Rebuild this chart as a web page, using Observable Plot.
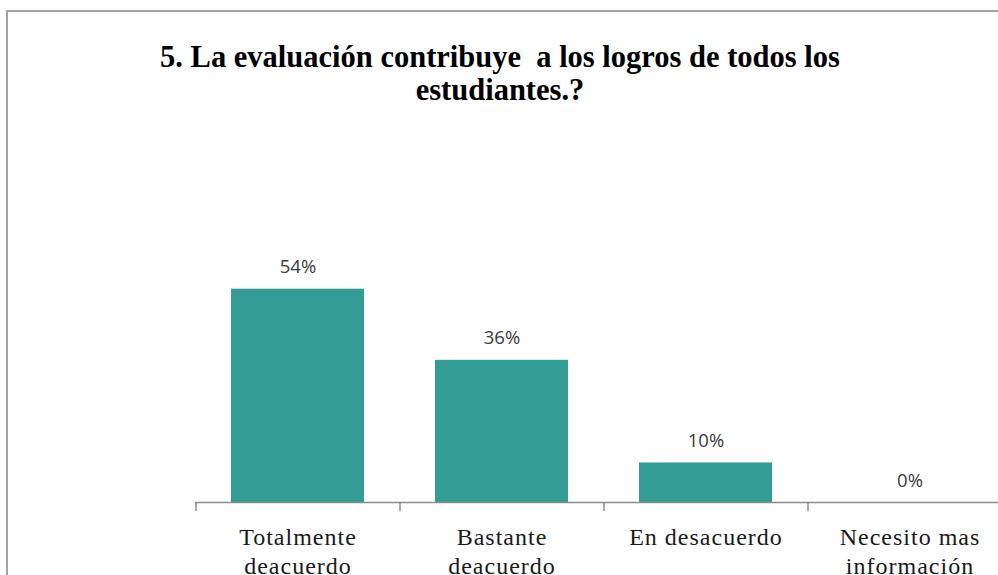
<!DOCTYPE html>
<html>
<head>
<meta charset="utf-8">
<script src="https://cdn.jsdelivr.net/npm/d3@7"></script>
<script src="https://cdn.jsdelivr.net/npm/@observablehq/plot@0.6"></script>
<style>
  html, body { margin: 0; padding: 0; background: #fff; overflow: hidden; }
  #wrap { position: relative; width: 998px; height: 575px; overflow: hidden; background: #fff; }
  #frame { position: absolute; left: 6px; top: 10px; width: 1200px; height: 800px; border: 2px solid #a3a3a3; box-sizing: border-box; }
  #title { position: absolute; left: 0; top: 30px; }
  #chart { position: absolute; left: 0; top: 0; }
</style>
</head>
<body>
<div id="wrap">
  <div id="frame"></div>
  <div id="chart"></div>
  <div id="title"></div>
</div>
<script>
const titleLines = ["5. La evaluación contribuye\u00a0 a los logros de todos los", "estudiantes.?"];
const categories = ["Totalmente deacuerdo", "Bastante deacuerdo", "En desacuerdo", "Necesito mas información"];
const tickLabels = ["Totalmente\ndeacuerdo", "Bastante\ndeacuerdo", "En desacuerdo", "Necesito mas\ninformación"];
const values = [54, 36, 10, 0];
const valueLabels = ["54%", "36%", "10%", "0%"];

const data = categories.map((c, i) => ({cat: c, value: values[i], label: valueLabels[i], tick: tickLabels[i]}));

// Title as SVG text (serif bold)
const tsvg = d3.select("#title").append("svg").attr("width", 998).attr("height", 80);
tsvg.selectAll("text").data(titleLines).join("text")
  .attr("x", 500)
  .attr("y", (d, i) => 37 + i * 33)
  .attr("text-anchor", "middle")
  .attr("font-family", "Liberation Serif")
  .attr("font-weight", "bold")
  .attr("font-size", 30.5)
  .attr("fill", "#000")
  .style("white-space", "pre")
  .text(d => d);

const xRange = [195, 1011];
const step = (xRange[1] - xRange[0]) / categories.length;

const chart = Plot.plot({
  width: 998,
  height: 575,
  marginLeft: 195,
  marginRight: 0,
  marginTop: 0,
  marginBottom: 0,
  style: {background: "transparent", overflow: "visible"},
  x: {type: "band", domain: categories, range: xRange, paddingInner: 0.35, paddingOuter: 0.175, axis: null},
  y: {domain: [0, 60], range: [502, 265], axis: null},
  marks: [
    Plot.barY(data, {x: "cat", y: "value", fill: "#339d95"}),
    Plot.ruleY([0], {stroke: "#8c8c8c", strokeWidth: 1.5}),
    Plot.ruleX(categories, {x: d => d, y1: 0, y2: 0, dx: -step / 2, insetBottom: -9, stroke: "#8c8c8c", strokeWidth: 1.5}),
    Plot.text(data, {x: "cat", y: "value", text: "label", lineAnchor: "bottom", dy: -16,
      fontFamily: "Open Sans", fontSize: 18.5, fill: "#3a3a3a"}),
    Plot.text(data, {x: "cat", y: 0, text: "tick", lineAnchor: "top", dy: 22, lineHeight: 1.2,
      fontFamily: "Liberation Serif", fontSize: 24, fill: "#1a1a1a", className: "xlabels"})
  ]
});
d3.select(chart).selectAll("g.xlabels text, g.xlabels").style("letter-spacing", "1px");
document.getElementById("chart").appendChild(chart);
</script>
</body>
</html>
